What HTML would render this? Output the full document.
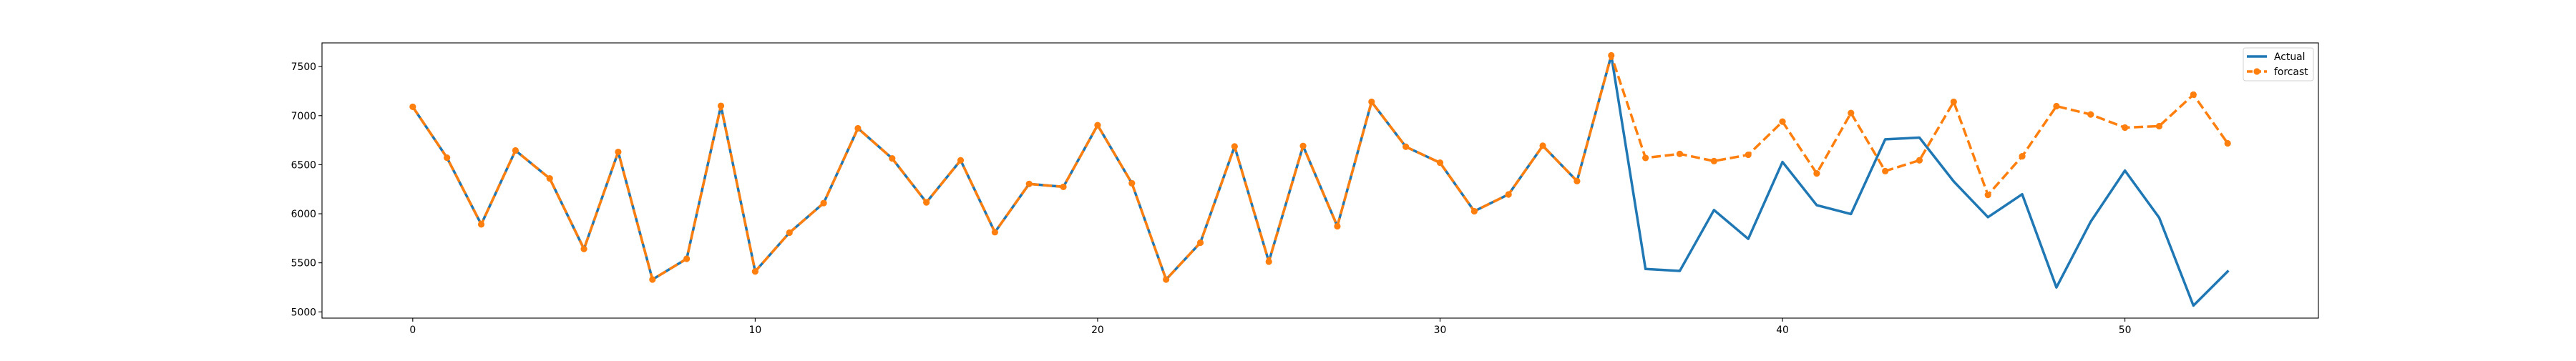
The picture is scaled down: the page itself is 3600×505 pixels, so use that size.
<!DOCTYPE html>
<html><head><meta charset="utf-8"><style>
html,body{margin:0;padding:0;background:#fff;}
svg text{font-family:"DejaVu Sans","Liberation Sans",sans-serif;font-size:13.9px;fill:#000;}
</style></head><body>
<svg id="chart" width="3600" height="500" xmlns="http://www.w3.org/2000/svg">
<rect x="0" y="0" width="3600" height="500" fill="#fff"/>
<g id="plot"></g>
</svg>
<script>
const actualValues = [7090,6571,5892,6645,6360,5641,6630,5330,5541,7100,5412,5807,6109,6871,6564,6116,6545,5812,6304,6274,6903,6311,5330,5705,6686,5512,6691,5873,7141,6683,6520,6026,6197,6693,6333,7614,5437,5417,6038,5744,6528,6087,5997,6759,6776,6330,5965,6199,5249,5919,6440,5960,5064,5412];
const forecastValues = [7090,6571,5892,6645,6360,5641,6630,5330,5541,7100,5412,5807,6109,6871,6564,6116,6545,5812,6304,6274,6903,6311,5330,5705,6686,5512,6691,5873,7141,6683,6520,6026,6197,6693,6333,7614,6569,6610,6537,6601,6939,6411,7027,6435,6545,7141,6192,6586,7097,7012,6878,6893,7214,6718];
const xTicks = [0,10,20,30,40,50];
const yTicks = [5000,5500,6000,6500,7000,7500];
const seriesNames = ["Actual","forcast"];

const L=450,R=3240,T=60,B=445;
const n=actualValues.length;
const xmin=-0.05*(n-1), xmax=(n-1)*1.05;
const all=actualValues.concat(forecastValues);
const dmin=Math.min(...all), dmax=Math.max(...all), pad=(dmax-dmin)*0.05;
const ymin=dmin-pad, ymax=dmax+pad;
const sx=v=>L+(v-xmin)/(xmax-xmin)*(R-L);
const sy=v=>B-(v-ymin)/(ymax-ymin)*(B-T);
const NS="http://www.w3.org/2000/svg";
const g=document.getElementById('plot');
function mk(tag,attrs,parent){const e=document.createElementNS(NS,tag);for(const k in attrs)e.setAttribute(k,attrs[k]);(parent||g).appendChild(e);return e;}

// ticks
xTicks.forEach(t=>{
  const l=mk('line',{x1:sx(t),x2:sx(t),y1:B,y2:B+4.9,stroke:'#000','stroke-width':1.1});
  
  
  const tx=mk('text',{x:sx(t),y:B+21,'text-anchor':'middle'});
  tx.textContent=t;
  
  
});
yTicks.forEach(t=>{
  const l=mk('line',{x1:L-4.9,x2:L,y1:sy(t),y2:sy(t),stroke:'#000','stroke-width':1.1});
  
  
  const tx=mk('text',{x:L-8,y:sy(t)+5,'text-anchor':'end'});
  tx.textContent=t;
  
  
});

const ptsA=actualValues.map((v,i)=>sx(i)+','+sy(v)).join(' ');
const pa=mk('polyline',{points:ptsA,fill:'none',stroke:'#1f77b4','stroke-width':3.5,'stroke-linejoin':'round','stroke-linecap':'square'});


const ptsF=forecastValues.map((v,i)=>sx(i)+','+sy(v)).join(' ');
const pf=mk('polyline',{points:ptsF,fill:'none',stroke:'#ff7f0e','stroke-width':3.5,'stroke-dasharray':'12.9,5.6','stroke-linejoin':'round'});


forecastValues.forEach((v,i)=>{
  const c=mk('ellipse',{cx:sx(i),cy:sy(v),rx:4.6,ry:4.6,fill:'#ff7f0e'});
  
  
});

const frame=mk('rect',{x:L,y:T,width:R-L,height:B-T,fill:'none',stroke:'#000','stroke-width':1.1});



// legend
const lg=mk('g',{});


mk('rect',{x:3135,y:67,width:98,height:46,rx:3,fill:'#fff',stroke:'#ccc','stroke-width':1,opacity:0.9},lg);
const l1=mk('line',{x1:3140,x2:3168,y1:79,y2:79,stroke:'#1f77b4','stroke-width':3.5},lg);


const t1=mk('text',{x:3178,y:84},lg);t1.textContent=seriesNames[0];


const l2=mk('line',{x1:3140,x2:3168,y1:100,y2:100,stroke:'#ff7f0e','stroke-width':3.5,'stroke-dasharray':'8,4'},lg);


mk('ellipse',{cx:3154,cy:100,rx:4.6,ry:4.6,fill:'#ff7f0e'},lg);
const t2=mk('text',{x:3178,y:105},lg);t2.textContent=seriesNames[1];


</script>
</body></html>
